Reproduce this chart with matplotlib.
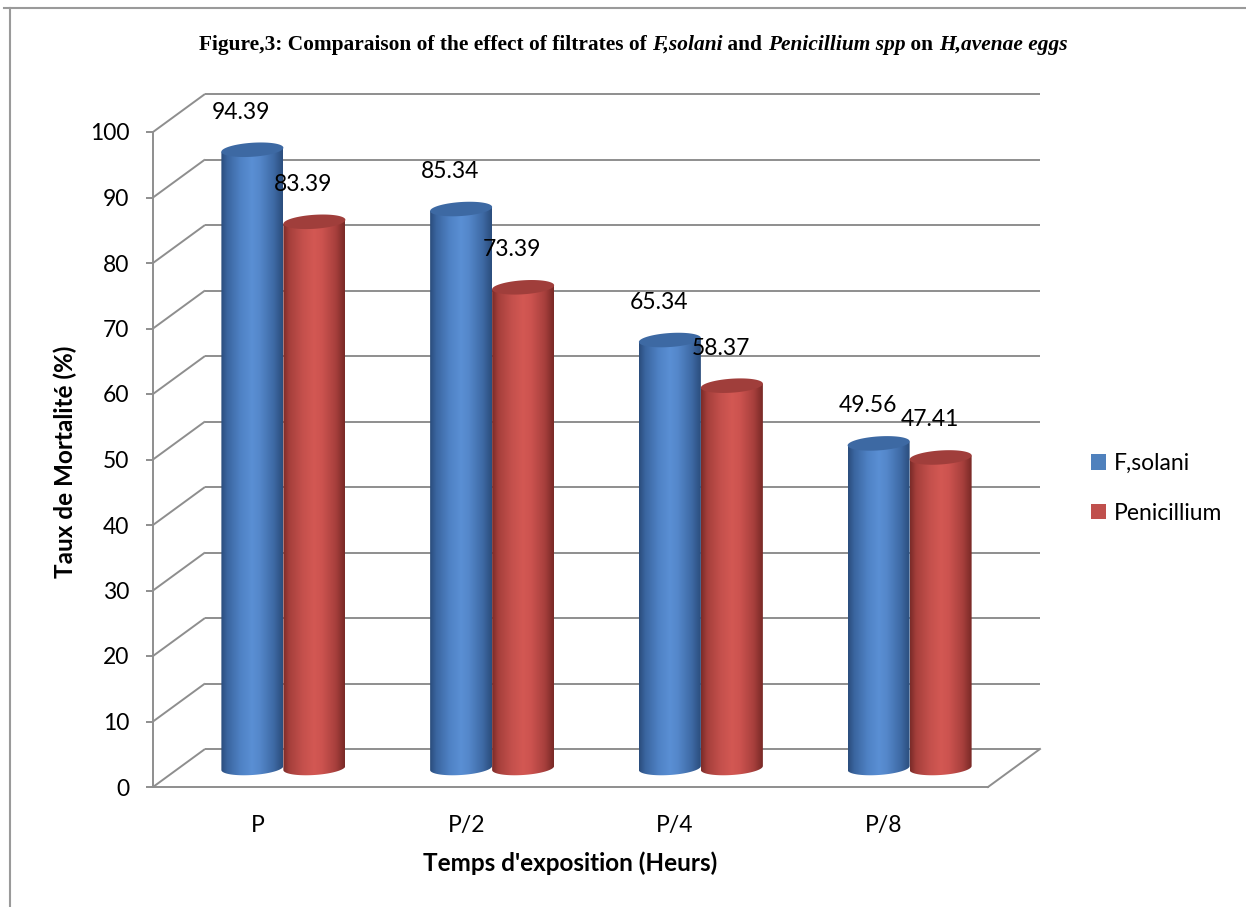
import numpy as np
import matplotlib
matplotlib.use("Agg")
import matplotlib.pyplot as plt
from matplotlib.patches import Polygon, Patch
from matplotlib.colors import LinearSegmentedColormap
from matplotlib.lines import Line2D

# ---- data ----
categories = ["P", "P/2", "P/4", "P/8"]
series_names = ["F,solani", "Penicillium"]
fsolani = [94.39, 85.34, 65.34, 49.56]
penicillium = [83.39, 73.39, 58.37, 47.41]
y_ticks = [0, 10, 20, 30, 40, 50, 60, 70, 80, 90, 100]

# ---- style ----
SANS = ["Lato", "DejaVu Sans"]
SERIF = ["Liberation Serif", "DejaVu Serif"]
FS = 16.5
GRID = "#8e8e8e"
legend_colors = ["#4f81bd", "#c0504d"]
top_colors = ["#3d69a3", "#a03e3b"]
body_stops = [
    [(0.0, "#2a4c7c"), (0.10, "#3a659f"), (0.32, "#4f82c5"), (0.50, "#5a8fd4"),
     (0.63, "#5487ca"), (0.85, "#3e6aa5"), (1.0, "#2b4d7c")],
    [(0.0, "#7a2b28"), (0.10, "#a53f3b"), (0.32, "#c4504c"), (0.50, "#d35853"),
     (0.63, "#cc534f"), (0.85, "#a8403d"), (1.0, "#782926")],
]

W, H = 1246, 907
fig = plt.figure(figsize=(W / 100, H / 100), dpi=100)
fig.patch.set_facecolor("white")

# front plane of the 3-D box
ax = fig.add_axes([153 / W, 1 - 787 / H, 835 / W, 655 / H])
ax.set_facecolor("none")
xmin, xmax = -0.5, len(categories) - 0.5
ax.set_xlim(xmin, xmax)
ax.set_ylim(0, 100)

px_x = (xmax - xmin) / 835.0   # data units per pixel (x)
px_y = 100.0 / 655.0           # data units per pixel (y)
dx_back, dy_back = 52 * px_x, 38 * px_y   # depth offset of the back wall
dx_mid, dy_mid = dx_back / 2, dy_back / 2

# walls: diagonal connectors and back-wall gridlines
for v in y_ticks:
    ax.plot([xmin, xmin + dx_back], [v, v + dy_back], color=GRID, lw=1.4,
            clip_on=False, zorder=1, solid_capstyle="butt")
    ax.plot([xmin + dx_back, xmax + dx_back], [v + dy_back, v + dy_back],
            color=GRID, lw=1.4, clip_on=False, zorder=1, solid_capstyle="butt")
ax.plot([xmax, xmax + dx_back], [0, dy_back], color=GRID, lw=1.4,
        clip_on=False, zorder=1)

for side in ["top", "right"]:
    ax.spines[side].set_visible(False)
for side in ["left", "bottom"]:
    ax.spines[side].set_color(GRID)
    ax.spines[side].set_linewidth(1.4)
    ax.spines[side].set_zorder(1)

ax.set_yticks(y_ticks)
ax.set_yticklabels([str(t) for t in y_ticks], family=SANS, fontsize=FS)
ax.tick_params(axis="y", direction="out", length=5, width=1.4, color=GRID,
               pad=12, labelcolor="black")
ax.set_xticks(range(len(categories)))
ax.set_xticklabels(categories, family=SANS, fontsize=FS)
ax.tick_params(axis="x", length=0, pad=20, labelcolor="black")

ax.set_xlabel("Temps d'exposition (Heurs)", family=SANS, fontsize=17.5,
              fontweight="bold")
ax.xaxis.set_label_coords(0.5, (787 - 863) / 655.0)
ax.xaxis.label.set_verticalalignment("center")
ax.set_ylabel("Taux de Mortalité (%)", family=SANS, fontsize=17.5,
              fontweight="bold")
ax.yaxis.set_label_coords((65 - 153) / 835.0, (787 - 462) / 655.0)
ax.yaxis.label.set_verticalalignment("center")

# ---- cylinders ----
bar_w = 62 * px_x
a = bar_w / 2
b = 7 * px_y          # vertical semi-axis of the ellipses
k = 2 * px_y          # slight perspective tilt of the ellipses
t = np.linspace(0, 2 * np.pi, 120)


def ellipse_pts(cx, cy):
    return np.column_stack([cx + a * np.cos(t), cy + b * np.sin(t) + k * np.cos(t)])


z = 3
for ci in range(len(categories)):
    for si, vals in enumerate([fsolani, penicillium]):
        v = vals[ci]
        cx = ci + (si - 0.5) * bar_w + dx_mid
        base = dy_mid
        top = v + dy_mid
        tb = np.linspace(np.pi, 2 * np.pi, 60)
        bottom_arc = np.column_stack([cx + a * np.cos(tb),
                                      base + b * np.sin(tb) + k * np.cos(tb)])
        body = np.vstack([[cx - a, top - k], bottom_arc, [cx + a, top + k]])
        poly = Polygon(body, closed=True, facecolor="none", edgecolor="none",
                       zorder=z)
        ax.add_patch(poly)
        cmap = LinearSegmentedColormap.from_list(f"cyl{si}", body_stops[si])
        grad = np.linspace(0, 1, 256).reshape(1, -1)
        im = ax.imshow(grad, cmap=cmap, aspect="auto", interpolation="bicubic",
                       extent=[cx - a, cx + a, base - b - k, top + b + k],
                       zorder=z, clip_on=True)
        im.set_clip_path(poly)
        cap = Polygon(ellipse_pts(cx, top), closed=True,
                      facecolor=top_colors[si], edgecolor="none", zorder=z + 0.5)
        ax.add_patch(cap)
        ax.annotate(f"{v:.2f}", xy=(cx, top), xytext=(-8, 27),
                    textcoords="offset points", ha="center", va="center",
                    family=SANS, fontsize=FS, zorder=20, annotation_clip=False)
        z += 1

ax.set_xlim(xmin, xmax)
ax.set_ylim(0, 100)

# ---- legend ----
handles = [Patch(facecolor=c, edgecolor="none") for c in legend_colors]
leg = fig.legend(handles, series_names, loc="upper left",
                 bbox_to_anchor=(1091 / W, 1 - 453 / H), frameon=False,
                 prop={"family": SANS, "size": 16.5}, handlelength=0.65,
                 handleheight=0.65, handletextpad=0.35, labelspacing=1.25,
                 borderpad=0, borderaxespad=0)

# ---- title (bold, with italic bold taxon names) ----
pieces = [("Figure,3: Comparaison of the effect of filtrates of ", "normal"),
          ("F,solani", "italic"), (" and ", "normal"),
          ("Penicillium spp", "italic"), (" on ", "normal"),
          ("H,avenae eggs", "italic")]
renderer = fig.canvas.get_renderer()
texts = []
for s, style in pieces:
    tx = fig.text(0, 1 - 45 / H, s, family=SERIF, fontweight="bold",
                  fontstyle=style, fontsize=15.4, va="center", ha="left")
    texts.append(tx)
widths = [tx.get_window_extent(renderer).width for tx in texts]
total = sum(widths)
x0 = 633 - total / 2
for tx, w in zip(texts, widths):
    tx.set_x(x0 / W)
    x0 += w

# ---- frame around the chart area ----
fig.add_artist(Line2D([9.5 / W, 9.5 / W], [0, 1 - 8 / H], color="#9a9a9a",
                      lw=1.5, transform=fig.transFigure))
fig.add_artist(Line2D([4 / W, 1], [1 - 8 / H, 1 - 8 / H], color="#9a9a9a",
                      lw=1.5, transform=fig.transFigure))

fig.savefig("out.png", dpi=100)
